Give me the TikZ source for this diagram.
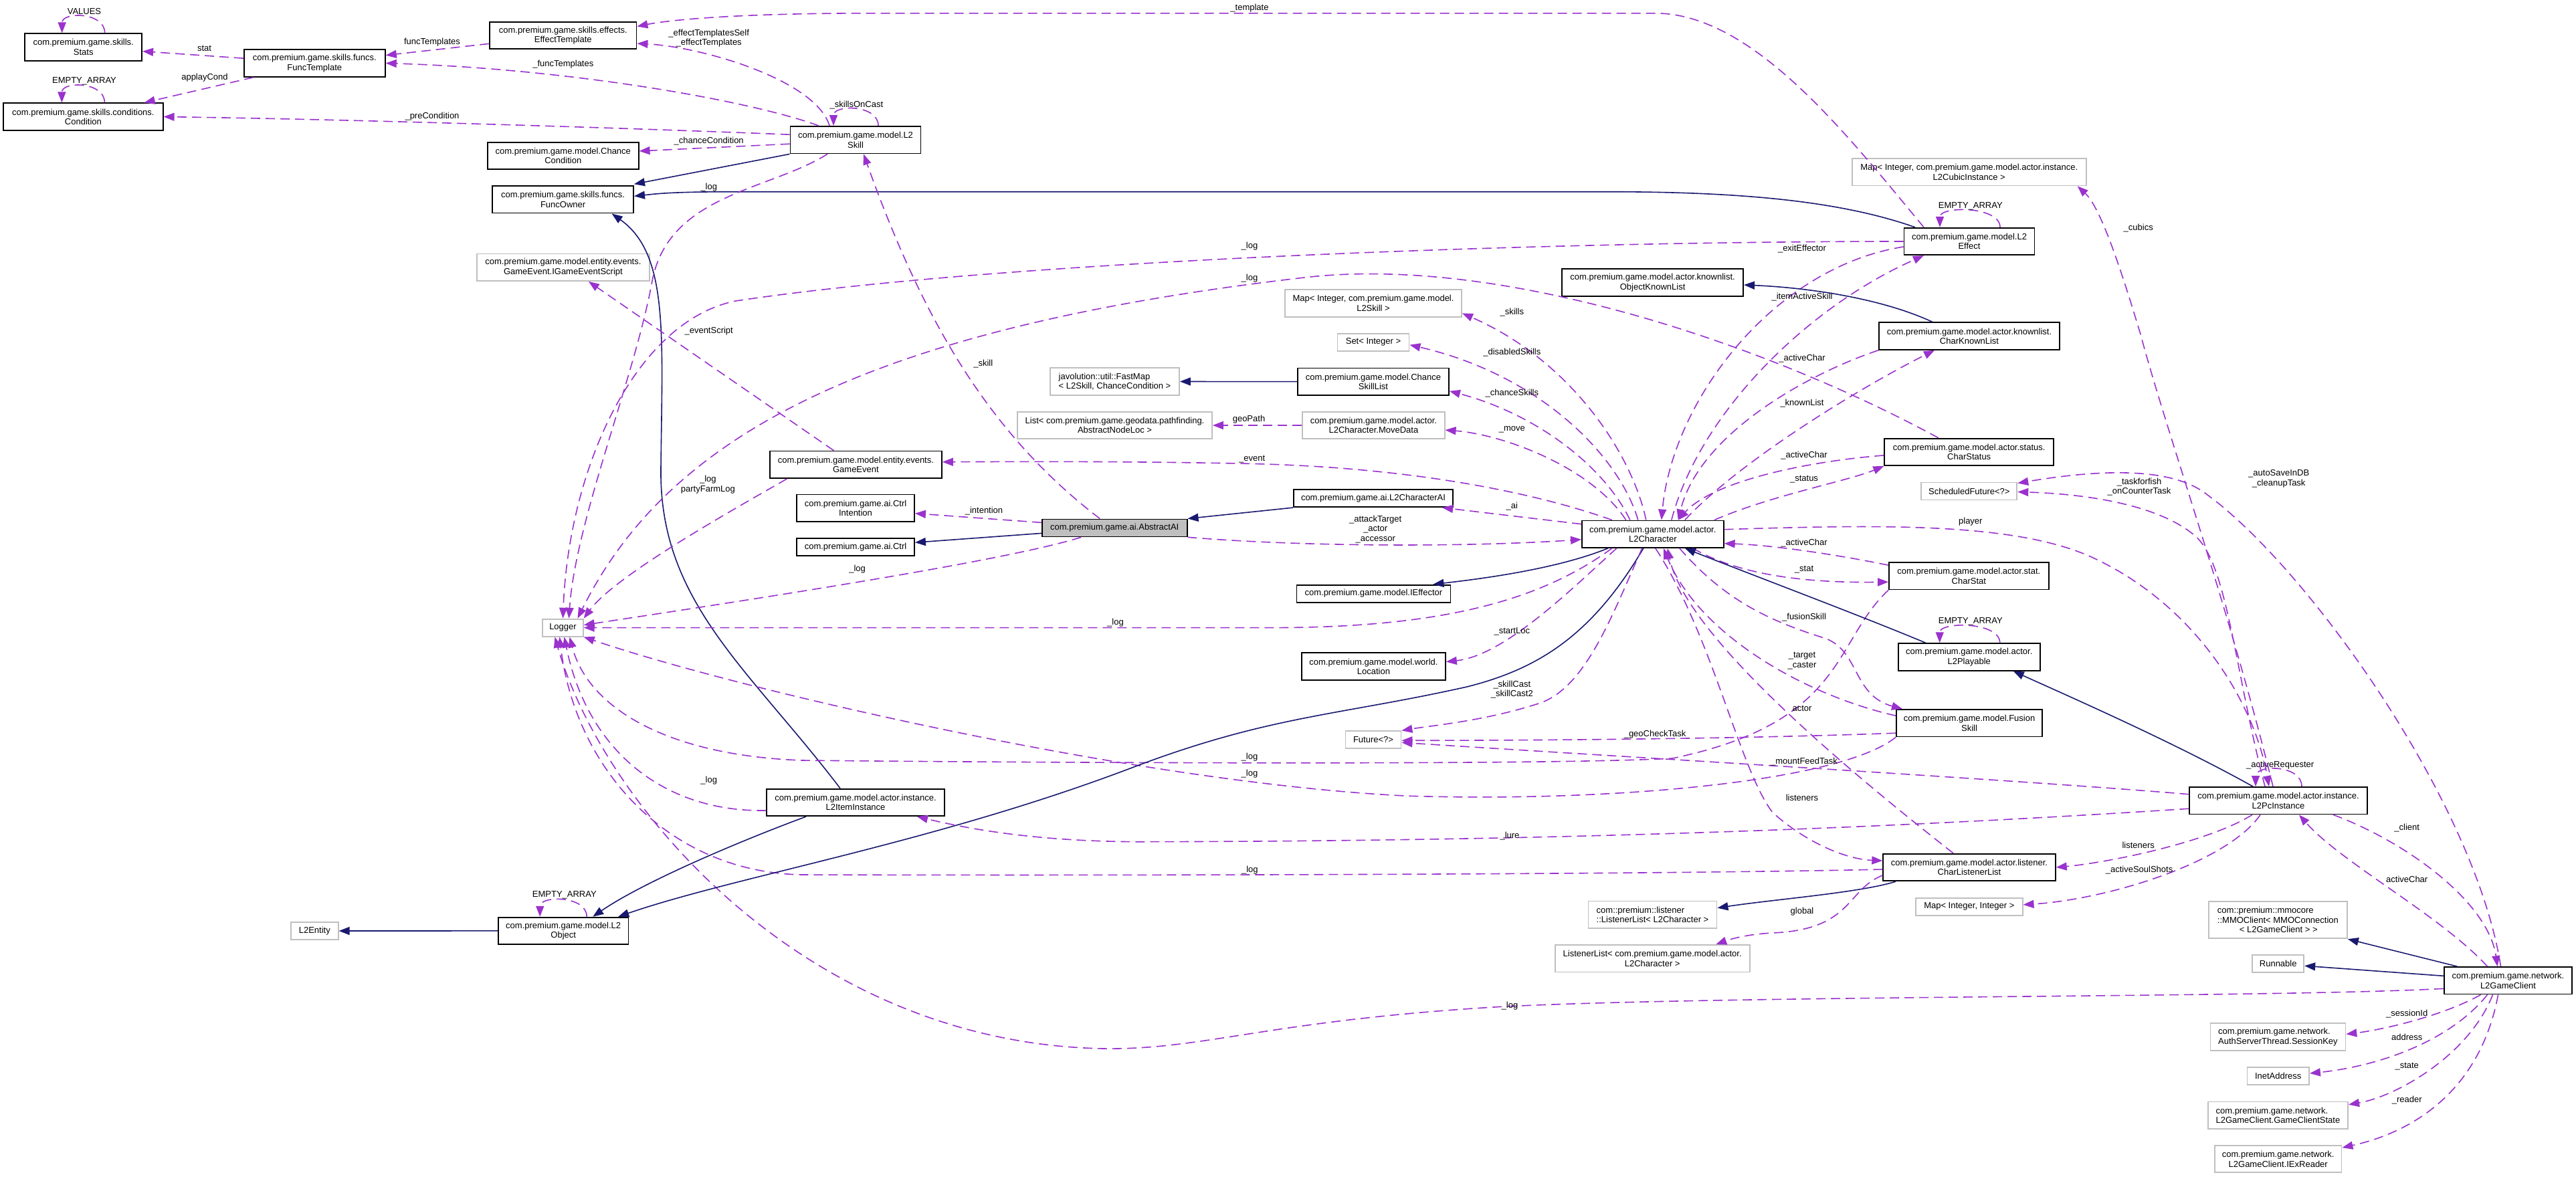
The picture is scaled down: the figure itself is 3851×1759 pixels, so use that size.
\documentclass[tikz,border=0pt]{standalone}
\usepackage{fontspec}
\setmainfont{Liberation Sans}
\usetikzlibrary{arrows.meta}
\definecolor{orchid}{RGB}{154,50,205}
\definecolor{midnight}{RGB}{25,25,112}
\definecolor{grey75}{RGB}{191,191,191}
\newcommand{\dgfont}{\fontsize{13}{14.5}\selectfont}

\begin{document}
\begin{tikzpicture}[x=1pt,y=-1pt,
  cls/.style={draw=black,line width=1.8pt,fill=white,font=\dgfont,align=center,inner sep=2pt,minimum height=40.5pt},
  ext/.style={cls,draw=grey75},
  cur/.style={cls,fill=grey75},
  usage/.style={draw=orchid,line width=1.6pt,dash pattern=on 14pt off 8pt,-{Triangle[length=16pt,width=12pt]}},
  inherit/.style={draw=midnight,line width=1.6pt,-{Triangle[length=16pt,width=12pt]}},
  lab/.style={font=\dgfont,align=center,inner sep=0pt}]
  \fill[white] (0,0) rectangle (3851,1759);
  \useasboundingbox (0,0) rectangle (3851,1759);

  \node[cls,minimum width=175pt] (stats) at (124.7,70.6) {com.premium.game.skills.\\Stats};
  \node[cls,minimum width=211pt] (functmpl) at (470.3,94.5) {com.premium.game.skills.funcs.\\FuncTemplate};
  \node[cls,minimum width=238.5pt] (cond) at (124.4,174.6) {com.premium.game.skills.conditions.\\Condition};
  \node[cls,minimum width=219.4pt] (efftmpl) at (841.8,53) {com.premium.game.skills.effects.\\EffectTemplate};
  \node[cls,minimum width=225.7pt] (chcond) at (841.8,232.9) {com.premium.game.model.Chance\\Condition};
  \node[cls,minimum width=211pt] (funcowner) at (841.6,298.3) {com.premium.game.skills.funcs.\\FuncOwner};
  \node[ext,minimum width=257.7pt] (evscript) at (841.9,399.8) {com.premium.game.model.entity.events.\\GameEvent.IGameEventScript};
  \node[ext,minimum width=60.6pt,minimum height=26pt] (logger) at (841.5,938.6) {Logger};
  \node[cls,minimum width=194.5pt] (l2object) at (842.2,1391.9) {com.premium.game.model.L2\\Object};
  \node[ext,minimum width=70.8pt,minimum height=26pt] (l2entity) at (470.3,1392) {L2Entity};
  \node[cls,minimum width=195pt] (l2skill) at (1279,209.2) {com.premium.game.model.L2\\Skill};
  \node[cls,minimum width=257pt] (gameevent) at (1279.4,694.8) {com.premium.game.model.entity.events.\\GameEvent};
  \node[cls,minimum width=176pt] (intention) at (1279,759.7) {com.premium.game.ai.Ctrl\\Intention};
  \node[cls,minimum width=176pt,minimum height=26pt] (ctrl) at (1279,818.2) {com.premium.game.ai.Ctrl};
  \node[cls,minimum width=265.3pt] (iteminst) at (1279,1199.9) {com.premium.game.model.actor.instance.\\L2ItemInstance};
  \node[cur,minimum width=216.8pt,minimum height=26pt] (abstractai) at (1666.2,789.4) {com.premium.game.ai.AbstractAI};
  \node[ext,minimum width=193pt,align=left] (fastmap) at (1666.5,570.4) {javolution::util::FastMap\\< L2Skill, ChanceCondition >};
  \node[ext,minimum width=291pt] (geolist) at (1666.5,636) {List< com.premium.game.geodata.pathfinding.\\AbstractNodeLoc >};
  \node[ext,minimum width=264pt] (skillmap) at (2053,453.4) {Map< Integer, com.premium.game.model.\\L2Skill >};
  \node[ext,minimum width=107pt,minimum height=26pt] (skillset) at (2053,511.7) {Set< Integer >};
  \node[cls,minimum width=226pt] (chskills) at (2053,570.8) {com.premium.game.model.Chance\\SkillList};
  \node[ext,minimum width=212.4pt] (movedata) at (2053.4,636) {com.premium.game.model.actor.\\L2Character.MoveData};
  \node[cls,minimum width=238.5pt,minimum height=26pt] (charai) at (2053,745.2) {com.premium.game.ai.L2CharacterAI};
  \node[cls,minimum width=230pt,minimum height=26pt] (effector) at (2053.4,887.6) {com.premium.game.model.IEffector};
  \node[cls,minimum width=215pt] (location) at (2053.4,996.6) {com.premium.game.model.world.\\Location};
  \node[ext,minimum width=83pt,minimum height=26pt] (future) at (2053,1106.3) {Future<?>};
  \node[cls,minimum width=271pt] (objknown) at (2470.6,422.5) {com.premium.game.model.actor.knownlist.\\ObjectKnownList};
  \node[cls,minimum width=211.8pt] (l2char) at (2470.8,798.7) {com.premium.game.model.actor.\\L2Character};
  \node[ext,minimum width=192pt,align=left] (listener) at (2470.5,1367.7) {com::premium::listener\\::ListenerList< L2Character >};
  \node[ext,minimum width=291pt] (listenerlist) at (2470.2,1433.3) {ListenerList< com.premium.game.model.actor.\\L2Character >};
  \node[ext,minimum width=350pt] (cubicmap) at (2943.7,257.2) {Map< Integer, com.premium.game.model.actor.instance.\\L2CubicInstance >};
  \node[cls,minimum width=195pt] (l2effect) at (2944,361) {com.premium.game.model.L2\\Effect};
  \node[cls,minimum width=270pt] (charknown) at (2944,502.6) {com.premium.game.model.actor.knownlist.\\CharKnownList};
  \node[cls,minimum width=253pt] (charstatus) at (2943.7,675.9) {com.premium.game.model.actor.status.\\CharStatus};
  \node[ext,minimum width=143pt,minimum height=26pt] (schedfuture) at (2943.8,734.5) {ScheduledFuture<?>};
  \node[cls,minimum width=238.6pt] (charstat) at (2943.3,861.2) {com.premium.game.model.actor.stat.\\CharStat};
  \node[cls,minimum width=212pt] (playable) at (2943.7,982.4) {com.premium.game.model.actor.\\L2Playable};
  \node[cls,minimum width=218pt] (fusion) at (2944,1081.2) {com.premium.game.model.Fusion\\Skill};
  \node[cls,minimum width=257.6pt] (charlisten) at (2944,1297) {com.premium.game.model.actor.listener.\\CharListenerList};
  \node[ext,minimum width=159.6pt,minimum height=26pt] (intmap) at (2943.8,1355.8) {Map< Integer, Integer >};
  \node[cls,minimum width=265.5pt] (pcinst) at (3406,1197.2) {com.premium.game.model.actor.instance.\\L2PcInstance};
  \node[ext,minimum width=207pt,minimum height=55pt,align=left] (mmoclient) at (3405.4,1375.8) {com::premium::mmocore\\::MMOClient< MMOConnection\\\hspace*{33pt}< L2GameClient > >};
  \node[ext,minimum width=77pt,minimum height=26pt] (runnable) at (3405.7,1441.2) {Runnable};
  \node[cls,minimum width=191.5pt] (gameclient) at (3749.5,1466.3) {com.premium.game.network.\\L2GameClient};
  \node[ext,minimum width=202pt,align=left] (sessionkey) at (3405.4,1550.4) {com.premium.game.network.\\AuthServerThread.SessionKey};
  \node[ext,minimum width=92.6pt,minimum height=26pt] (inetaddr) at (3405.7,1609) {InetAddress};
  \node[ext,minimum width=209.4pt,align=left] (clientstate) at (3405.4,1667.7) {com.premium.game.network.\\L2GameClient.GameClientState};
  \node[ext,minimum width=189.6pt] (exreader) at (3405.7,1733.1) {com.premium.game.network.\\L2GameClient.IExReader};

  \draw[usage] ([xshift=32pt]stats.north) .. controls +(0,-32) and +(0,-32) .. ([xshift=-32pt]stats.north) node[lab] at (126,17) {VALUES};
  \draw[usage] (functmpl) -- (stats) node[lab] at (305.5,72.8) {stat};
  \draw[usage] (functmpl) -- (cond) node[lab] at (306,116.6) {applayCond};
  \draw[usage] ([xshift=32pt]cond.north) .. controls +(0,-32) and +(0,-32) .. ([xshift=-32pt]cond.north) node[lab] at (126,121) {EMPTY\_ARRAY};
  \draw[usage] (efftmpl) -- (functmpl) node[lab] at (646,63.3) {funcTemplates};
  \draw[usage] ([xshift=-55pt]l2skill.north) .. controls (1120,150) and (850,103) .. (functmpl.east) node[lab] at (841.8,96.5) {\_funcTemplates};
  \draw[usage] ([xshift=-39pt]l2skill.north) .. controls (1220,120) and (1050,70) .. ([yshift=-12pt]efftmpl.east) node[lab] at (1059.7,57.3) {\_effectTemplatesSelf\\\_effectTemplates};
  \draw[usage] ([xshift=-68pt]l2effect.north) .. controls (2760,200) and (2620,19.8) .. (2474,19.8) -- (1300,19.8) .. controls (1100,19.8) and (1000,30) .. ([yshift=13.5pt]efftmpl.east) node[lab] at (1868,11.9) {\_template};
  \draw[usage] ([yshift=8pt]l2skill.west) .. controls (900,190) and (500,178) .. (cond.east) node[lab] at (646,174.4) {\_preCondition};
  \draw[usage] ([yshift=-6pt]l2skill.west) -- ([yshift=7pt]chcond.east) node[lab] at (1059.7,210.8) {\_chanceCondition};
  \draw[inherit] (l2skill.south west) -- ([yshift=23pt]funcowner.east);
  \draw[inherit] ([xshift=-81pt]l2effect.north) .. controls (2750,300) and (2600,286.7) .. (2400,286.7) -- (1100,286.7) .. controls (1000,286.7) and (980,290) .. ([yshift=5pt]funcowner.east);
  \draw[usage] ([xshift=34pt]l2skill.north) .. controls +(0,-32) and +(0,-32) .. ([xshift=-33pt]l2skill.north) node[lab] at (1280.4,156.6) {\_skillsOnCast};
  \draw[usage] ([xshift=-42pt]l2skill.south) .. controls (1150,285) and (1000,290) .. (975,420) .. controls (950,560) and (860,780) .. ([xshift=9pt]logger.north) node[lab] at (1059.7,280) {\_log};
  \draw[inherit] ([xshift=-23pt]iteminst.north) .. controls (1120,1000) and (985,900) .. (988,700) .. controls (990,500) and (1000,380) .. ([xshift=73pt]funcowner.south);
  \draw[usage] ([xshift=-33pt]gameevent.north) -- ([xshift=38pt]evscript.south) node[lab] at (1059.7,495.5) {\_eventScript};
  \draw[usage] ([xshift=-103pt]gameevent.south) .. controls (1100,760) and (920,860) .. (logger.north east) node[lab] at (1058.4,724.5) {\_log\\partyFarmLog};
  \draw[usage] ([xshift=-22pt]abstractai.north) .. controls (1480,650) and (1380,480) .. ([xshift=12pt]l2skill.south) node[lab] at (1469.8,543.7) {\_skill};
  \draw[usage] (l2effect.west) .. controls (2300,361) and (1500,390) .. (1100,450) .. controls (950,480) and (850,700) .. (logger.north) node[lab] at (1868,368.5) {\_log};
  \draw[usage] ([xshift=-46pt]charstatus.north) .. controls (2650,520) and (2250,380) .. (1950,415) .. controls (1300,490) and (1000,650) .. ([xshift=22pt]logger.north) node[lab] at (1868,416) {\_log};
  \draw[usage] ([xshift=-50pt]abstractai.south) .. controls (1500,840) and (1100,900) .. ([yshift=4pt]logger.east) node[lab] at (1281.6,851.3) {\_log};
  \draw[usage] ([xshift=-61pt]l2char.south) .. controls (2300,900) and (2150,938.6) .. (1900,938.6) -- (logger.east) node[lab] at (1667.5,931.1) {\_log};
  \draw[usage] (charstat.south west) .. controls (2740,960) and (2760,1080) .. (2500,1134) .. controls (2300,1145) and (1500,1140) .. (1200,1137) .. controls (1000,1130) and (880,1060) .. ([xshift=10pt]logger.south) node[lab] at (1868,1132.4) {\_log};
  \draw[usage] (fusion.south west) .. controls (2750,1170) and (2400,1200) .. (2100,1190) .. controls (1700,1170) and (1100,1030) .. (logger.south east) node[lab] at (1868,1157.3) {\_log};
  \draw[usage] ([yshift=-12pt]iteminst.west) .. controls (1000,1215) and (880,1130) .. ([xshift=2pt]logger.south) node[lab] at (1059.7,1167) {\_log};
  \draw[usage] ([yshift=-3pt]charlisten.west) .. controls (2400,1309) and (1500,1309) .. (1200,1308) .. controls (1000,1305) and (860,1150) .. ([xshift=-5pt]logger.south) node[lab] at (1868.4,1300.7) {\_log};
  \draw[usage] ([yshift=-12pt]gameclient.west) .. controls (3400,1492) and (2600,1488) .. (2250,1505) .. controls (1900,1525) and (1800,1570) .. (1650,1568) .. controls (1200,1560) and (900,1200) .. ([xshift=-12pt]logger.south) node[lab] at (2257,1504.6) {\_log};

  \draw[inherit] (l2object.west) -- (l2entity.east);
  \draw[usage] ([xshift=35pt]l2object.north) .. controls +(0,-32) and +(0,-32) .. ([xshift=-35pt]l2object.north) node[lab] at (843.8,1338.3) {EMPTY\_ARRAY};
  \draw[inherit] ([xshift=-74pt]iteminst.south) .. controls (1100,1260) and (960,1320) .. ([xshift=44pt]l2object.north);
  \draw[inherit] ([xshift=-14pt]l2char.south) .. controls (2380,950) and (2300,1000) .. (2193,1027) .. controls (2000,1070) and (1900,1070) .. (1700,1145) .. controls (1400,1260) and (1100,1310) .. ([xshift=82pt]l2object.north);

  \draw[inherit] (charai.south west) -- (abstractai.north east);
  \draw[inherit] ([yshift=-8pt]abstractai.west) -- ([yshift=7pt]ctrl.east);
  \draw[usage] ([yshift=8pt]abstractai.west) -- ([yshift=-8pt]intention.east) node[lab] at (1471,763.9) {\_intention};
  \draw[usage] (abstractai.south east) .. controls (1950,818) and (2200,818) .. ([yshift=-8pt]l2char.west) node[lab] at (2056.2,791.5) {\_attackTarget\\\_actor\\\_accessor};
  \draw[inherit] (chskills) -- (fastmap);
  \draw[usage] (movedata) -- (geolist) node[lab] at (1867,627.5) {geoPath};

  \draw[usage] ([xshift=-61pt]l2char.north) .. controls (2290,735) and (2100,697) .. (1850,693) .. controls (1700,690) and (1550,690) .. ([yshift=4pt]gameevent.east) node[lab] at (1871.6,686.8) {\_event};
  \draw[usage] ([yshift=15pt]l2char.west) -- ([xshift=-17pt]charai.south east) node[lab] at (2260.3,756.7) {\_ai};
  \draw[inherit] ([xshift=-67pt]l2char.south) .. controls (2330,850) and (2220,865) .. ([xshift=89pt]effector.north);
  \draw[usage] ([xshift=-54pt]l2char.south) .. controls (2350,880) and (2250,980) .. ([yshift=7pt]location.east) node[lab] at (2260.3,944.6) {\_startLoc};
  \draw[usage] ([xshift=-16pt]l2char.south) .. controls (2410,920) and (2370,1030) .. (2300,1052) .. controls (2220,1078) and (2140,1085) .. (future.north east) node[lab] at (2260.3,1031.2) {\_skillCast\\\_skillCast2};
  \draw[usage] ([xshift=-10pt]l2char.north) .. controls (2440,680) and (2350,540) .. ([yshift=-15pt]skillmap.east) node[lab] at (2260.3,466.6) {\_skills};
  \draw[usage] ([xshift=-22pt]l2char.north) .. controls (2420,680) and (2300,560) .. ([yshift=-4pt]skillset.east) node[lab] at (2260.3,527.5) {\_disabledSkills};
  \draw[usage] ([xshift=-34pt]l2char.north) .. controls (2400,700) and (2300,620) .. ([yshift=-14pt]chskills.east) node[lab] at (2260.3,587.6) {\_chanceSkills};
  \draw[usage] ([xshift=-40pt]l2char.north) .. controls (2380,700) and (2250,650) .. ([yshift=-7pt]movedata.east) node[lab] at (2260.3,642.5) {\_move};

  \draw[usage] ([yshift=-8pt]l2effect.west) .. controls (2650,400) and (2500,600) .. ([xshift=13pt]l2char.north) node[lab] at (2694,372.5) {\_exitEffector};
  \draw[usage] ([xshift=28pt]l2char.north) .. controls (2540,620) and (2700,460) .. ([xshift=-68pt]l2effect.south) node[lab] at (2694,443.6) {\_itemActiveSkill};
  \draw[usage] ([xshift=46pt]l2effect.north) .. controls +(0,-32) and +(0,-32) .. ([xshift=-44pt]l2effect.north) node[lab] at (2945.8,308.4) {EMPTY\_ARRAY};
  \draw[usage] (charknown.south west) .. controls (2700,560) and (2540,650) .. ([xshift=38pt]l2char.north) node[lab] at (2694,535.8) {\_activeChar};
  \draw[usage] ([xshift=48pt]l2char.north) .. controls (2600,690) and (2780,580) .. ([xshift=-52pt]charknown.south) node[lab] at (2694,603) {\_knownList};
  \draw[inherit] ([xshift=-55pt]charknown.north) .. controls (2810,445) and (2700,430) .. ([yshift=-3.5pt]objknown.east);
  \draw[usage] ([yshift=-5pt]charstatus.west) .. controls (2700,690) and (2560,720) .. ([xshift=38pt]l2char.north) node[lab] at (2697,680.8) {\_activeChar};
  \draw[usage] ([xshift=92pt]l2char.north) .. controls (2650,740) and (2760,720) .. (charstatus.south west) node[lab] at (2697,716.8) {\_status};
  \draw[usage] ([yshift=16pt]charstat.west) .. controls (2750,830) and (2650,815) .. ([yshift=-14pt]l2char.east) node[lab] at (2697,812.5) {\_activeChar};
  \draw[usage] ([xshift=60pt]l2char.south) .. controls (2600,860) and (2700,872) .. ([yshift=-9pt]charstat.west) node[lab] at (2697,851.6) {\_stat};
  \draw[inherit] ([xshift=-65pt]playable.north) .. controls (2780,920) and (2620,860) .. ([xshift=48pt]l2char.south);
  \draw[usage] ([xshift=46pt]playable.north) .. controls +(0,-32) and +(0,-32) .. ([xshift=-44pt]playable.north) node[lab] at (2945.8,929.1) {EMPTY\_ARRAY};
  \draw[usage] ([xshift=40pt]l2char.south) .. controls (2580,900) and (2650,930) .. (2730,955) .. controls (2780,975) and (2770,1040) .. ([xshift=-100pt]fusion.north) node[lab] at (2697,923.2) {\_fusionSkill};
  \draw[usage] ([yshift=11pt]fusion.west) .. controls (2700,1040) and (2540,950) .. ([xshift=16pt]l2char.south) node[lab] at (2694,988) {\_target\\\_caster};
  \draw[usage] ([yshift=-15pt]fusion.west) .. controls (2600,1105) and (2300,1107) .. ([yshift=-1pt]future.east) node[lab] at (2474,1098) {\_geoCheckTask};
  \draw[usage] ([xshift=-24pt]charlisten.north) .. controls (2760,1150) and (2520,950) .. ([xshift=22pt]l2char.south) node[lab] at (2694,1059.6) {actor};
  \draw[usage] ([xshift=4pt]l2char.south) .. controls (2560,950) and (2600,1150) .. (2650,1215) .. controls (2700,1260) and (2760,1285) .. ([yshift=10pt]charlisten.west) node[lab] at (2694,1192.7) {listeners};
  \draw[inherit] ([xshift=-110pt]charlisten.south) .. controls (2780,1335) and (2650,1345) .. ([yshift=10pt]listener.east);
  \draw[usage] ([yshift=-12pt]charlisten.west) .. controls (2760,1330) and (2770,1390) .. (2650,1395) .. controls (2610,1397) and (2585,1405) .. ([xshift=95pt]listenerlist.north) node[lab] at (2694,1362.8) {global};

  \draw[inherit] ([xshift=-38pt]pcinst.north) .. controls (3250,1110) and (3090,1040) .. ([xshift=66pt]playable.south);
  \draw[usage] ([xshift=35pt]pcinst.north) .. controls +(0,-33) and +(0,-33) .. ([xshift=-34pt]pcinst.north) node[lab] at (3408.6,1144.6) {\_activeRequester};
  \draw[usage] ([xshift=-20pt]pcinst.north) .. controls (3340,1000) and (3330,840) .. (3280,800) .. controls (3220,750) and (3100,738) .. ([yshift=-1pt]schedfuture.east) node[lab] at (3198,728) {\_taskforfish\\\_onCounterTask};
  \draw[usage] ([xshift=-11pt]gameclient.north) .. controls (3700,1200) and (3450,850) .. (3300,740) .. controls (3250,700) and (3150,700) .. ([yshift=12pt]schedfuture.east) node[lab] at (3406.7,716) {\_autoSaveInDB\\\_cleanupTask};
  \draw[usage] ([xshift=-8pt]pcinst.north) .. controls (3330,900) and (3240,650) .. (3200,500) .. controls (3170,400) and (3140,310) .. ([xshift=162pt]cubicmap.south) node[lab] at (3196.7,340.8) {\_cubics};
  \draw[usage] ([yshift=7pt]l2char.east) .. controls (2800,785) and (3000,780) .. (3120,830) .. controls (3280,900) and (3370,1050) .. ([xshift=-14pt]pcinst.north) node[lab] at (2945.8,779.7) {player};
  \draw[usage] ([yshift=9.5pt]pcinst.west) .. controls (3000,1165) and (2400,1130) .. ([yshift=-4pt]future.east) node[lab] at (2697,1138.7) {\_mountFeedTask};
  \draw[usage] ([yshift=-12pt]pcinst.west) .. controls (2800,1240) and (2300,1258) .. (1700,1258.7) .. controls (1550,1258) and (1450,1240) .. ([xshift=92pt]iteminst.south) node[lab] at (2257,1250.2) {\_lure};
  \draw[usage] ([xshift=-39pt]pcinst.south) .. controls (3300,1260) and (3150,1290) .. (charlisten.east) node[lab] at (3196.7,1263.4) {listeners};
  \draw[usage] ([xshift=-27pt]pcinst.south) .. controls (3330,1290) and (3150,1345) .. ([yshift=3pt]intmap.east) node[lab] at (3198,1300.7) {\_activeSoulShots};
  \draw[usage] ([xshift=82pt]pcinst.south) .. controls (3600,1260) and (3720,1350) .. ([xshift=-16pt]gameclient.north) node[lab] at (3598.2,1238.5) {\_client};
  \draw[usage] ([xshift=-31pt]gameclient.north) .. controls (3650,1370) and (3500,1290) .. ([xshift=31pt]pcinst.south) node[lab] at (3598.2,1314.7) {activeChar};

  \draw[inherit] ([xshift=-76pt]gameclient.north) -- (mmoclient.south east);
  \draw[inherit] ([yshift=7pt]gameclient.west) -- ([yshift=-3pt]runnable.east);
  \draw[usage] ([xshift=-41pt]gameclient.south) .. controls (3650,1520) and (3560,1540) .. ([yshift=4pt]sessionkey.east) node[lab] at (3598.2,1516.2) {\_sessionId};
  \draw[usage] ([xshift=-31pt]gameclient.south) .. controls (3660,1560) and (3550,1595) .. ([yshift=4pt]inetaddr.east) node[lab] at (3598.2,1550.4) {address};
  \draw[usage] ([xshift=-23pt]gameclient.south) .. controls (3690,1580) and (3580,1640) .. ([yshift=16pt]clientstate.east) node[lab] at (3598.2,1594.7) {\_state};
  \draw[usage] ([xshift=-15pt]gameclient.south) .. controls (3710,1620) and (3620,1690) .. ([yshift=17pt]exreader.east) node[lab] at (3598.2,1644.8) {\_reader};
\end{tikzpicture}
\end{document}
